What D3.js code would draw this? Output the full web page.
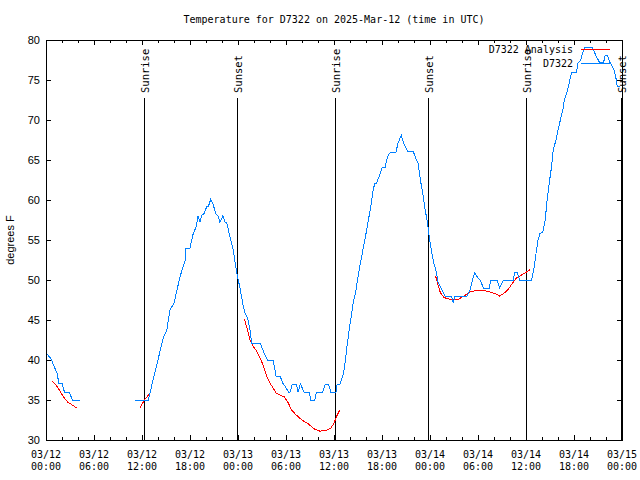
<!DOCTYPE html>
<html><head><meta charset="utf-8">
<script src="https://cdn.jsdelivr.net/npm/d3@7"></script>
<style>body{margin:0;background:#fff}svg{display:block}</style>
</head><body>
<script>
// ---- data (hours after 2025-03-12 00:00 UTC) ----
const obsHours = [0,0.6,1.4,1.6,2.0,2.3,2.9,3.3,4.3,null,
11.1,12.8,13.4,14.7,15.1,15.5,16.0,16.75,17.4,17.5,18.0,18.4,18.8,19.0,19.25,19.45,19.75,20.1,20.3,20.6,20.9,21.25,21.5,21.75,22.1,22.4,22.6,23.0,23.4,23.75,23.9,24.25,24.7,24.9,25.2,25.5,25.7,26.8,27.2,27.7,28.4,28.75,29.25,29.6,29.9,30.3,30.5,30.8,31.3,31.5,31.8,32.25,32.9,33.1,33.6,33.8,34.6,34.9,35.3,35.6,36.25,36.4,36.75,37.2,37.4,37.6,37.9,38.1,38.4,38.75,39.0,39.3,39.7,40.0,40.3,40.6,40.9,41.1,41.3,41.7,42.0,42.4,42.6,42.9,43.1,43.75,44.0,44.4,44.7,45.2,45.9,46.25,46.5,46.8,47.1,47.4,47.7,47.9,48.2,48.5,48.8,49.0,49.5,49.9,50.7,50.9,51.1,52.6,53.0,53.3,53.6,53.9,54.25,54.7,55.4,55.6,56.4,56.7,57.2,58.4,58.6,58.9,59.2,60.7,61.0,61.25,61.5,61.75,62.1,62.4,62.6,62.9,63.2,63.4,63.75,64.0,64.25,64.6,64.8,65.2,65.4,65.7,66.3,66.5,66.8,67.2,67.4,68.3,68.8,69.2,69.7,69.9,70.2,70.5,71.0,71.25,71.4,71.8];
const obsTemps = [40.9,40.2,38.3,37.1,37.1,36.0,36.0,35.0,35.0,null,
35.0,35.0,37.6,42.9,43.75,46.25,47.1,50.4,52.5,54,54,55.8,56.7,58,57.2,58.1,58.3,59.2,59.2,60.1,59.4,58.25,58.0,57.2,58.0,57.2,57.1,55.4,53.75,51.5,50.6,49.0,46.5,45.8,45.2,43.75,42.1,42.1,41.0,40.0,40.0,38.0,38.0,37.1,36.7,36.0,36.0,37.0,37.0,36.0,37.0,36.0,36.0,35.0,35.0,36.0,36.0,37.0,37.0,36.0,36.0,37.0,37.0,38.3,39.8,41.5,43.75,45.1,47.1,48.75,50.4,52.1,54.2,55.8,57.5,59.2,61.25,62.1,62.1,63.1,64.0,64.1,65.1,65.8,66.0,66.0,67.1,68.1,67.1,66.1,66.1,65.1,64.6,62.5,60.8,58.75,57.1,55.4,53.5,52.0,51.0,49.8,48.75,48.0,48.0,47.1,47.9,47.9,48.75,50.0,50.9,50.4,50.0,49.0,49.0,50.0,50.0,49.0,50.0,50.0,51.0,51.0,50.0,50.0,51.5,53.3,55,55.8,56.0,57.5,59.6,62.1,64.2,66.25,67.5,68.75,69.8,71.25,72.5,73.75,74.6,76.0,76.0,77.1,77.4,78.75,79.1,79.1,77.9,77.2,77.2,78.1,78.0,77.2,76.25,75.2,74.2,74.2];
const anaHours = [0.75,1.25,1.75,2.25,2.75,3.25,3.83,null,
11.75,12.3,12.9,null,
24.8,25.2,25.5,25.9,26.4,26.8,27.2,27.6,28.0,28.4,28.75,29.25,29.8,30.3,30.7,31.3,32.0,32.8,33.5,34.25,35.0,35.6,36.0,36.3,36.7,null,
48.7,49.0,49.3,49.75,50.5,51.3,51.75,52.4,53.0,53.8,54.7,55.5,56.25,56.7,57.2,57.7,58.25,58.75,59.25,59.9,60.5];
const anaTemps = [37.4,36.9,36.1,35.3,34.7,34.4,34.0,null,
34.0,35.0,35.75,null,
45.1,43.75,42.5,41.7,41.0,40.2,39.2,37.9,37.1,36.5,35.9,35.6,35.4,34.6,33.75,33.1,32.5,32.0,31.4,31.1,31.2,31.5,32.1,32.9,33.7,null,
50.5,49.4,48.4,47.8,47.6,47.5,47.7,48.1,48.5,48.7,48.7,48.5,48.25,48.0,48.3,48.75,49.5,50.2,50.5,50.9,51.3];
const sunLabels = ["Sunrise","Sunset","Sunrise","Sunset","Sunrise","Sunset"];
const sunHours = [12.29,23.91,36.16,47.79,60.06,71.85];
const yTicks = [30,35,40,45,50,55,60,65,70,75,80];
const xTickHours = [0,6,12,18,24,30,36,42,48,54,60,66,72];
const seriesNames = ["D7322 Analysis","D7322"];
const seriesColors = ["#ff0000","#0080ff"];
const titleText = "Temperature for D7322 on 2025-Mar-12 (time in UTC)";
const yLabel = "degrees F";

// ---- layout ----
const W=640,H=480, L=46,R=622,T=40,B=440;
const t0 = Date.UTC(2025,2,12,0,0);
const toDate = h => new Date(t0 + h*3600000);
const mono = "'DejaVu Sans Mono', monospace";
const sans = "'Liberation Sans', Arial, sans-serif";

const svg = d3.select("body").append("svg").attr("width",W).attr("height",H);
const x = d3.scaleUtc().domain([toDate(0),toDate(72)]).range([L,R]);
const y = d3.scaleLinear().domain([30,80]).range([B,T]);

// title
svg.append("text").attr("x",(L+R)/2).attr("y",23).attr("text-anchor","middle")
  .attr("font-family",mono).attr("font-size",10).text(titleText);

// y label
svg.append("text").attr("transform",`translate(14,240) rotate(-90)`).attr("text-anchor","middle")
  .attr("font-family",sans).attr("font-size",11).text(yLabel);

// axes ticks (inward)
const minorHours = d3.range(0,73,2);
const g = svg.append("g").attr("shape-rendering","crispEdges").attr("stroke","#000");
minorHours.forEach(h=>{
  const len = (h%6===0)?5:3;
  const px = Math.round(x(toDate(h)))+0.5;
  g.append("line").attr("x1",px).attr("x2",px).attr("y1",B).attr("y2",B-len);
  g.append("line").attr("x1",px).attr("x2",px).attr("y1",T).attr("y2",T+len);
});
yTicks.forEach(v=>{
  const py = Math.round(y(v))+0.5;
  g.append("line").attr("x1",L).attr("x2",L+5).attr("y1",py).attr("y2",py);
  g.append("line").attr("x1",R).attr("x2",R-5).attr("y1",py).attr("y2",py);
});

// y tick labels
svg.append("g").selectAll("text").data(yTicks).join("text")
  .attr("x",40).attr("y",d=>y(d)+4).attr("text-anchor","end")
  .attr("font-family",sans).attr("font-size",11).text(d=>d);

// x tick labels
const fmtD = d3.utcFormat("%m/%d"), fmtT = d3.utcFormat("%H:%M");
const xl = svg.append("g").selectAll("text").data(xTickHours).join("text")
  .attr("text-anchor","middle").attr("font-family",mono).attr("font-size",10);
xl.append("tspan").attr("x",d=>x(toDate(d))).attr("y",458).text(d=>fmtD(toDate(d)));
xl.append("tspan").attr("x",d=>x(toDate(d))).attr("y",470).text(d=>fmtT(toDate(d)));

// sunrise / sunset
sunHours.forEach((h,i)=>{
  const px = Math.round(x(toDate(h)))+0.5;
  svg.append("line").attr("x1",px).attr("x2",px).attr("y1",98).attr("y2",B)
    .attr("stroke","#000").attr("shape-rendering","crispEdges");
  svg.append("text").attr("transform",`translate(${px+4},93) rotate(-90)`)
    .attr("font-family",mono).attr("font-size",10.5).text(sunLabels[i]);
});

// series
const mk = (hs,ts)=>hs.map((h,i)=>({h,t:ts[i]}));
const line = d3.line().defined(d=>d.h!==null && d.t!==null)
  .x(d=>x(toDate(d.h))).y(d=>y(d.t));
svg.append("path").datum(mk(anaHours,anaTemps)).attr("d",line).attr("fill","none")
  .attr("stroke",seriesColors[0]).attr("stroke-width",1).attr("shape-rendering","crispEdges");
svg.append("path").datum(mk(obsHours,obsTemps)).attr("d",line).attr("fill","none")
  .attr("stroke",seriesColors[1]).attr("stroke-width",1).attr("shape-rendering","crispEdges");

// legend
seriesNames.forEach((n,i)=>{
  const ly = 49 + i*14;
  svg.append("text").attr("x",573).attr("y",ly+4).attr("text-anchor","end")
    .attr("font-family",mono).attr("font-size",10).text(n);
  svg.append("line").attr("x1",581).attr("x2",610).attr("y1",ly+0.5).attr("y2",ly+0.5)
    .attr("stroke",seriesColors[i]).attr("shape-rendering","crispEdges");
});

// frame
svg.append("rect").attr("x",L+0.5).attr("y",T+0.5).attr("width",R-L).attr("height",B-T)
  .attr("fill","none").attr("stroke","#000").attr("shape-rendering","crispEdges");
</script>
</body></html>
